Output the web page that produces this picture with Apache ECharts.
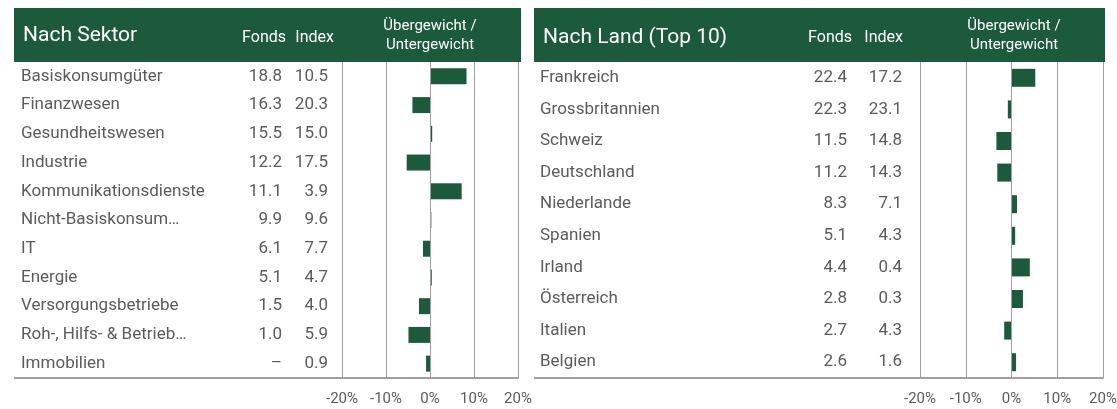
<!DOCTYPE html>
<html>
<head>
<meta charset="utf-8">
<script src="https://cdn.jsdelivr.net/npm/echarts@6/dist/echarts.min.js"></script>
<style>html,body{margin:0;padding:0;background:#fff}#c{width:1117px;height:409px}</style>
</head>
<body>
<div id="c"></div>
<script>
const sectors = ['Basiskonsumgüter','Finanzwesen','Gesundheitswesen','Industrie','Kommunikationsdienste','Nicht-Basiskonsum…','IT','Energie','Versorgungsbetriebe','Roh-, Hilfs- & Betrieb…','Immobilien'];
const sectorFonds = ['18.8','16.3','15.5','12.2','11.1','9.9','6.1','5.1','1.5','1.0','–'];
const sectorIndex = ['10.5','20.3','15.0','17.5','3.9','9.6','7.7','4.7','4.0','5.9','0.9'];
const sectorDiff = [8.3,-4.0,0.5,-5.3,7.2,0.3,-1.6,0.4,-2.5,-4.9,-0.9];

const countries = ['Frankreich','Grossbritannien','Schweiz','Deutschland','Niederlande','Spanien','Irland','Österreich','Italien','Belgien'];
const countryFonds = ['22.4','22.3','11.5','11.2','8.3','5.1','4.4','2.8','2.7','2.6'];
const countryIndex = ['17.2','23.1','14.8','14.3','7.1','4.3','0.4','0.3','4.3','1.6'];
const countryDiff = [5.2,-0.8,-3.3,-3.1,1.2,0.8,4.0,2.5,-1.6,1.0];

const xTicks = {min:-20, max:20, interval:10};
const gridValues = [-20, -10, 0, 10, 20];

const GREEN = '#1c5a3c';
const TXT = '#5b5b5b';
const GRID = '#a0a0a0';
const FONT = 'Roboto';

const chart = echarts.init(document.getElementById('c'), null, {renderer:'canvas'});

function xAxis(gi){
  return {type:'value', gridIndex:gi, min:xTicks.min, max:xTicks.max, interval:xTicks.interval,
    axisLine:{show:true, onZero:false, lineStyle:{color:GRID, width:2}}, axisTick:{show:false},
    splitLine:{show:true, showMinLine:true, showMaxLine:true, lineStyle:{color:GRID, width:1}},
    axisLabel:{formatter:'{value}%', color:TXT, fontFamily:FONT, fontSize:15, margin:14}};
}
function yAxes(gi, cats, fonds, index, mName, mF, mI, fs){
  const base = {type:'category', gridIndex:gi, data:cats, inverse:true, position:'left', offset:0,
    axisLine:{show:false, onZero:false}, axisTick:{show:false}, splitLine:{show:false}};
  return [
    Object.assign({}, base, {axisLabel:{margin:mName, align:'left', color:TXT, fontFamily:FONT, fontSize:fs}}),
    Object.assign({}, base, {axisLabel:{margin:mF, align:'right', color:TXT, fontFamily:FONT, fontSize:fs, formatter:(v,i)=>fonds[i]}}),
    Object.assign({}, base, {axisLabel:{margin:mI, align:'right', color:TXT, fontFamily:FONT, fontSize:fs, formatter:(v,i)=>index[i]}})
  ];
}
const vLines = {silent:true, symbol:'none', label:{show:false},
  lineStyle:{color:GRID, width:1, type:'solid'}, emphasis:{disabled:true},
  data: gridValues.map(v => ({xAxis:v}))};

const hdrText = {fill:'#fff', fontFamily:FONT};

chart.setOption({
  animation:false,
  grid:[
    {left:342, width:176, top:62, height:316, outerBoundsMode:'none', containLabel:false},
    {left:920, width:183, top:62, height:316, outerBoundsMode:'none', containLabel:false}
  ],
  xAxis:[xAxis(0), xAxis(1)],
  yAxis:[].concat(
    yAxes(0, sectors, sectorFonds, sectorIndex, 321, 60, 14, 17),
    yAxes(1, countries, countryFonds, countryIndex, 380, 73, 18, 17)
  ),
  series:[
    {type:'bar', xAxisIndex:0, yAxisIndex:0, data:sectorDiff, barWidth:16, clip:false, itemStyle:{color:GREEN}, markLine:vLines},
    {type:'bar', xAxisIndex:1, yAxisIndex:3, data:countryDiff, barWidth:18, clip:false, itemStyle:{color:GREEN}, markLine:vLines}
  ],
  graphic:[
    {type:'rect', shape:{x:14,y:8,width:507,height:54}, style:{fill:GREEN}, z:10},
    {type:'text', x:23, y:36, style:Object.assign({text:'Nach Sektor', fontSize:21, verticalAlign:'middle'}, hdrText), z:11},
    {type:'text', x:286, y:38, style:Object.assign({text:'Fonds', fontSize:16, align:'right', verticalAlign:'middle'}, hdrText), z:11},
    {type:'text', x:334, y:38, style:Object.assign({text:'Index', fontSize:16, align:'right', verticalAlign:'middle'}, hdrText), z:11},
    {type:'text', x:430, y:36, style:Object.assign({text:'Übergewicht /\nUntergewicht', fontSize:15, lineHeight:19, align:'center', verticalAlign:'middle'}, hdrText), z:11},
    {type:'line', shape:{x1:14,y1:378,x2:342,y2:378}, style:{stroke:GRID, lineWidth:2}, z:5},

    {type:'rect', shape:{x:534,y:8,width:571,height:54}, style:{fill:GREEN}, z:10},
    {type:'text', x:543, y:38, style:Object.assign({text:'Nach Land (Top 10)', fontSize:21, verticalAlign:'middle'}, hdrText), z:11},
    {type:'text', x:852, y:38, style:Object.assign({text:'Fonds', fontSize:16, align:'right', verticalAlign:'middle'}, hdrText), z:11},
    {type:'text', x:903, y:38, style:Object.assign({text:'Index', fontSize:16, align:'right', verticalAlign:'middle'}, hdrText), z:11},
    {type:'text', x:1014, y:36, style:Object.assign({text:'Übergewicht /\nUntergewicht', fontSize:15, lineHeight:19, align:'center', verticalAlign:'middle'}, hdrText), z:11},
    {type:'line', shape:{x1:534,y1:378,x2:920,y2:378}, style:{stroke:GRID, lineWidth:2}, z:5}
  ]
});
</script>
</body>
</html>
